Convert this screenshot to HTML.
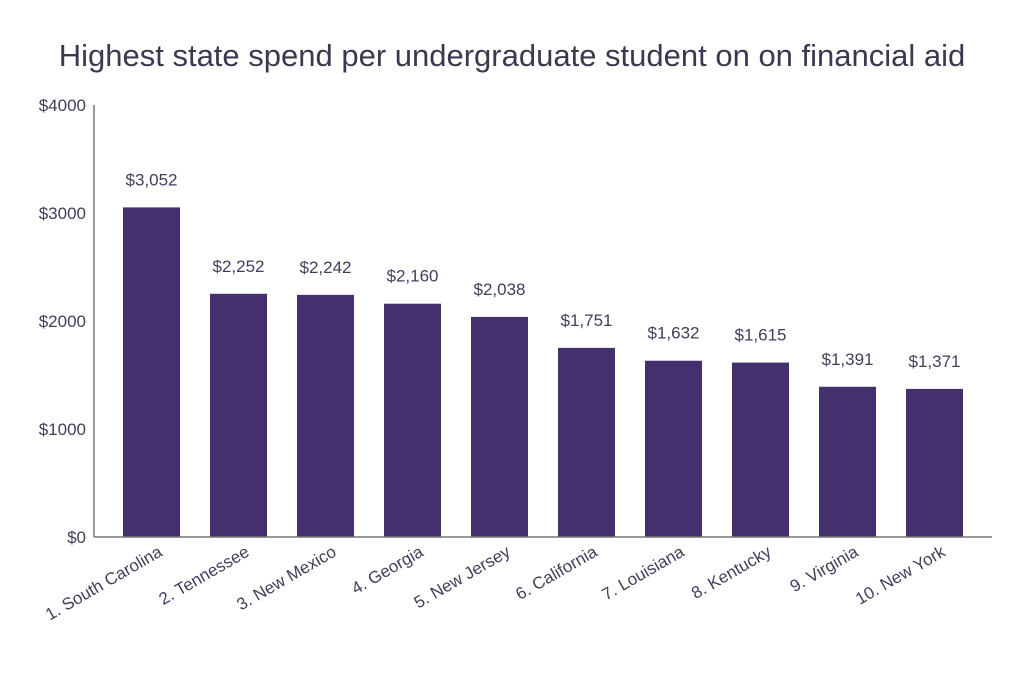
<!DOCTYPE html>
<html><head><meta charset="utf-8"><style>
body{margin:0;background:#fff;}
svg{display:block;font-family:"Liberation Sans",sans-serif;}
</style></head><body>
<svg id="chart" width="1024" height="683">
<text x="512" y="66" text-anchor="middle" font-size="31" fill="#3b3950">Highest state spend per undergraduate student on on financial aid</text>
<g id="axes"></g><g id="bars"></g>
</svg>
<script>
const categories=["1. South Carolina","2. Tennessee","3. New Mexico","4. Georgia","5. New Jersey","6. California","7. Louisiana","8. Kentucky","9. Virginia","10. New York"];
const values=[3052,2252,2242,2160,2038,1751,1632,1615,1391,1371];
const valueLabels=["$3,052","$2,252","$2,242","$2,160","$2,038","$1,751","$1,632","$1,615","$1,391","$1,371"];
const yTicks=[0,1000,2000,3000,4000];
const yTickLabels=["$0","$1000","$2000","$3000","$4000"];
const NS="http://www.w3.org/2000/svg";
const y0=537,yTop=105,yMax=4000,x0=94,x1=992;
const y=v=>y0-(v/yMax)*(y0-yTop);
const band=87,first=151.5,bw=57;
const xc=i=>first+i*band;
const axes=document.getElementById('axes'),bars=document.getElementById('bars');
function mk(t,a,p){const e=document.createElementNS(NS,t);for(const k in a)e.setAttribute(k,a[k]);p.appendChild(e);return e;}
yTicks.forEach((t,i)=>{
 const e=mk('text',{x:86,y:y(t)+6,'text-anchor':'end','font-size':17,fill:'#433d5c'},axes);
 e.textContent=yTickLabels[i];
 
 
});
values.forEach((v,i)=>{
 const r=mk('rect',{x:xc(i)-bw/2,y:y(v),width:bw,height:y0-y(v),fill:'#44306c'},bars);
 
 
 const l=mk('text',{x:xc(i),y:y(v)-22,'text-anchor':'middle','font-size':17,fill:'#433d5c'},bars);
 l.textContent=valueLabels[i];
 
 
 const c=mk('text',{x:xc(i)+12,y:y0+18,'text-anchor':'end','font-size':17,fill:'#433d5c',transform:`rotate(-30 ${xc(i)+12} ${y0+18})`},bars);
 c.textContent=categories[i];
 
 
});
const ya=mk('line',{x1:x0,y1:yTop,x2:x0,y2:y0,stroke:'#777',"stroke-width":1.5},axes);


const xa=mk('line',{x1:x0,y1:y0,x2:x1,y2:y0,stroke:'#777',"stroke-width":1.5},bars);


</script>
</body></html>
